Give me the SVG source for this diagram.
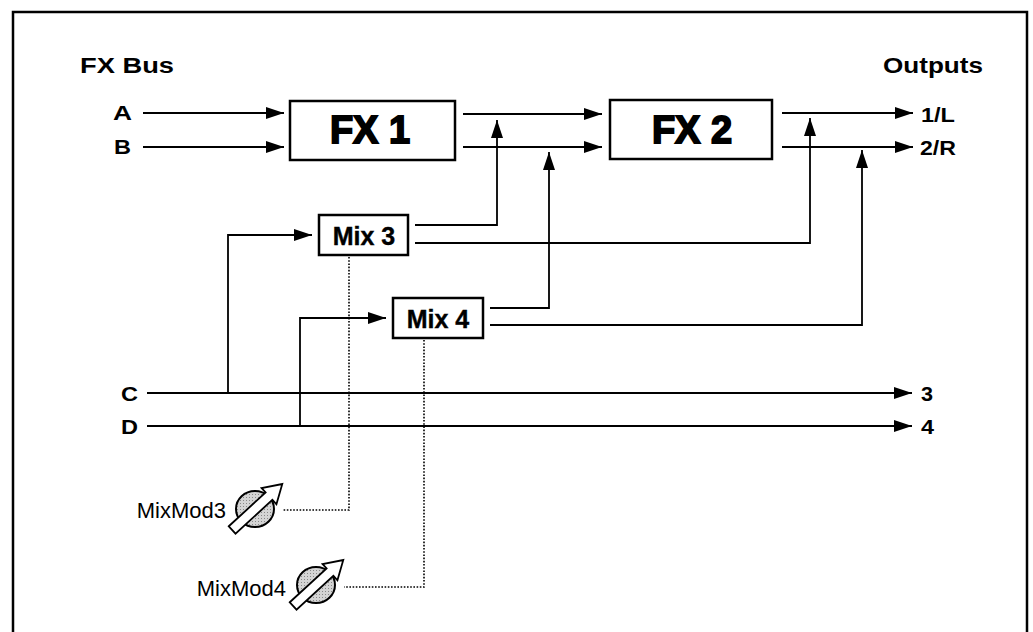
<svg xmlns="http://www.w3.org/2000/svg" width="1033" height="632" viewBox="0 0 1033 632">
<style>
.frame{fill:none;stroke:#000;stroke-width:2.5}
.box{fill:#fff;stroke:#000;stroke-width:2.5}
.ln{fill:none;stroke:#000;stroke-width:1.8}
.dot{fill:none;stroke:#000;stroke-width:1.6;stroke-dasharray:1.6 1.6}
.lbl{font-family:"Liberation Sans",Arial,sans-serif;font-weight:bold;fill:#000}
.big{font-family:"Liberation Sans",Arial,sans-serif;font-weight:bold;font-size:38px;fill:#000;stroke:#000;stroke-width:1.8;text-anchor:middle}
.mix{font-family:"Liberation Sans",Arial,sans-serif;font-weight:bold;font-size:25px;fill:#000;stroke:#000;stroke-width:0.4;text-anchor:middle}
.mod{font-family:"Liberation Sans",Arial,sans-serif;font-size:22px;fill:#000;text-anchor:end}
</style>
<defs>
<marker id="ah" viewBox="0 0 18 12" refX="18" refY="6" markerWidth="18" markerHeight="12" markerUnits="userSpaceOnUse" orient="auto">
<path d="M0,0 L18,6 L0,12 Z" fill="#000"/>
</marker>
<pattern id="hatch" width="3" height="3" patternUnits="userSpaceOnUse">
<rect width="3" height="3" fill="#d4d4d4"/>
<rect width="1" height="1" fill="#888"/>
</pattern>
<g id="knob">
<ellipse cx="0" cy="0" rx="19" ry="18" fill="url(#hatch)" stroke="#000" stroke-width="2"/>
<path transform="rotate(-42.5)" d="M-31,-5 L19,-5 L19,-11 L37,0 L19,11 L19,5 L-31,5 Z" fill="#fff" stroke="#000" stroke-width="1.8" stroke-linejoin="miter"/>
</g>
</defs>

<path class="frame" d="M13,640 L13,12 L1027,12 L1027,640"/>

<g id="labels">
<text class="lbl" x="80" y="73" font-size="22" textLength="94" lengthAdjust="spacingAndGlyphs">FX Bus</text>
<text class="lbl" x="883" y="73" font-size="22" textLength="100" lengthAdjust="spacingAndGlyphs">Outputs</text>
<text class="lbl" x="113" y="120" font-size="20" textLength="19" lengthAdjust="spacingAndGlyphs">A</text>
<text class="lbl" x="114" y="154" font-size="20" textLength="17" lengthAdjust="spacingAndGlyphs">B</text>
<text class="lbl" x="121" y="401" font-size="20" textLength="17" lengthAdjust="spacingAndGlyphs">C</text>
<text class="lbl" x="121" y="434" font-size="20" textLength="17" lengthAdjust="spacingAndGlyphs">D</text>
<text class="lbl" x="921" y="122" font-size="20" textLength="34" lengthAdjust="spacingAndGlyphs">1/L</text>
<text class="lbl" x="920" y="155" font-size="20" textLength="36" lengthAdjust="spacingAndGlyphs">2/R</text>
<text class="lbl" x="921" y="401" font-size="20" textLength="12" lengthAdjust="spacingAndGlyphs">3</text>
<text class="lbl" x="921" y="434" font-size="20" textLength="13" lengthAdjust="spacingAndGlyphs">4</text>
</g>

<g id="fx1">
<rect class="box" x="290" y="101" width="165" height="59"/>
<text class="big" x="370" y="143">FX 1</text>
</g>
<g id="fx2">
<rect class="box" x="610" y="100" width="162" height="59"/>
<text class="big" x="692" y="143">FX 2</text>
</g>
<g id="mix3">
<rect class="box" x="319" y="215" width="89" height="40"/>
<text class="mix" x="364" y="245">Mix 3</text>
</g>
<g id="mix4">
<rect class="box" x="393" y="298" width="90" height="40"/>
<text class="mix" x="438" y="328">Mix 4</text>
</g>
<g id="mixmod3">
<text class="mod" x="226" y="518">MixMod3</text>
<use href="#knob" x="255" y="509"/>
</g>
<g id="mixmod4">
<text class="mod" x="286" y="596">MixMod4</text>
<use href="#knob" x="316" y="585"/>
</g>

<g id="connectors">
<line class="ln" x1="143" y1="113" x2="284" y2="113" marker-end="url(#ah)"/>
<line class="ln" x1="143" y1="147" x2="284" y2="147" marker-end="url(#ah)"/>
<line class="ln" x1="463" y1="114" x2="602" y2="114" marker-end="url(#ah)"/>
<line class="ln" x1="463" y1="147" x2="602" y2="147" marker-end="url(#ah)"/>
<line class="ln" x1="782" y1="113" x2="913" y2="113" marker-end="url(#ah)"/>
<line class="ln" x1="782" y1="147" x2="913" y2="147" marker-end="url(#ah)"/>
<line class="ln" x1="147" y1="393" x2="912" y2="393" marker-end="url(#ah)"/>
<line class="ln" x1="147" y1="426" x2="912" y2="426" marker-end="url(#ah)"/>
<polyline class="ln" points="415,225 497,225 497,120" marker-end="url(#ah)"/>
<polyline class="ln" points="415,243 810,243 810,118" marker-end="url(#ah)"/>
<polyline class="ln" points="490,308 549,308 549,152" marker-end="url(#ah)"/>
<polyline class="ln" points="490,325 862,325 862,150" marker-end="url(#ah)"/>
<polyline class="ln" points="228,393 228,235 312,235" marker-end="url(#ah)"/>
<polyline class="ln" points="300,426 300,318 386,318" marker-end="url(#ah)"/>
<polyline class="dot" points="349,257 349,510 283,510"/>
<polyline class="dot" points="424,340 424,587 344,587"/>
</g>
</svg>
